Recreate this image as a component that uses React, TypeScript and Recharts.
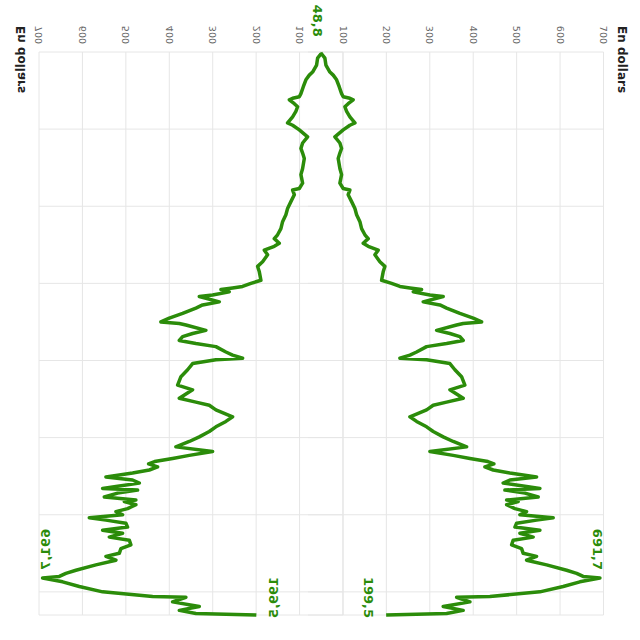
import { LineChart, Line, XAxis, YAxis, CartesianGrid, LabelList } from "recharts";

// share price (date as decimal year)
const dates = [
  2015.01, 2015.08, 2015.17, 2015.26, 2015.3, 2015.36, 2015.45, 2015.54, 2015.58, 2015.6,
  2015.62, 2015.67, 2015.71, 2015.77, 2015.84, 2015.92,
  2015.95, 2016.01, 2016.1, 2016.18, 2016.25, 2016.31, 2016.38, 2016.51, 2016.59, 2016.7,
  2016.77, 2016.79, 2016.85, 2016.94, 2017.03, 2017.11, 2017.2, 2017.29, 2017.37, 2017.42,
  2017.48, 2017.52, 2017.57, 2017.63, 2017.72, 2017.78, 2017.85, 2017.96, 2018.0,
  2018.04, 2018.06, 2018.08, 2018.11, 2018.15, 2018.17, 2018.24, 2018.28, 2018.32, 2018.39,
  2018.45, 2018.5, 2018.52, 2018.54, 2018.61, 2018.65, 2018.69, 2018.74, 2018.78, 2018.82,
  2018.89, 2018.93, 2018.97, 2018.99, 2019.04, 2019.12, 2019.21, 2019.32, 2019.38, 2019.49,
  2019.54, 2019.58, 2019.64, 2019.73, 2019.79, 2019.86, 2019.92, 2019.99, 2020.05, 2020.12,
  2020.18, 2020.23,
  2020.27, 2020.31, 2020.34, 2020.38, 2020.42, 2020.46, 2020.51, 2020.55, 2020.59, 2020.63,
  2020.66, 2020.68, 2020.72, 2020.77, 2020.81, 2020.83, 2020.87, 2020.92, 2020.96, 2021.0,
  2021.04, 2021.07, 2021.11, 2021.16, 2021.2, 2021.24, 2021.29, 2021.33, 2021.39, 2021.44,
  2021.5, 2021.54, 2021.59, 2021.65, 2021.72, 2021.76, 2021.8,
  2021.82, 2021.87, 2021.93, 2022.0, 2022.06, 2022.07, 2022.13, 2022.19, 2022.24, 2022.28,
  2022.3,
];

const prices = [
  48.8, 58.5, 60.8, 70, 77.6, 85.4, 91.4, 96.9, 100.6, 116,
  123.6, 112.1, 104.5, 108.5, 116, 127.6,
  116, 100.6, 81.5, 93, 96.9, 93, 89.1, 93, 96.9, 93,
  100.6, 116, 112.1, 120, 127.6, 131.5, 139.1, 143, 150.6, 158.2,
  146.7, 158.2, 181.2, 173.6, 185.1, 196.6, 192.7, 189, 212,
  231.2, 254.2, 281.1, 261.9, 300.3, 330.9, 284.8, 323.3, 338.7, 369.3,
  400, 419.3, 376.9, 361.7, 315.7, 346.3, 369.3, 376.9, 338.7, 292.7,
  269.6, 254.2, 231.2, 292.7, 346.3, 357.8, 373.2, 380.8, 346.3, 376.9,
  338.7, 307.9, 292.7, 254.2, 269.6, 292.7, 307.9, 330.9, 353.9, 384.8,
  300.3, 353.9,
  392.4, 433.8, 447.6, 426.9, 446, 484.5, 545.9, 484.5, 469, 519,
  553.5, 472.9, 519, 549.6, 476.9, 503.6, 476.9, 496, 522.9, 507.5,
  584.2, 545.9, 499.9, 496, 553.5, 507.5, 538.1, 492.1, 488.4, 511.4,
  515.1, 545.9, 522.9, 569, 615, 638.1, 653.2,
  691.7, 645.6, 607.2, 553.5, 438.4, 361.7, 392.4, 330.9, 376.9, 338.7,
  199.5,
];

const priceTicks = [100, 200, 300, 400, 500, 600, 700];
const yearTicks = [2015, 2016, 2017, 2018, 2019, 2020, 2021, 2022];

const data = dates.map((date, i) => ({ date, price: prices[i] }));

const GREEN = "#2b8c0a";
const FONT = "DejaVu Sans";
const peakIndex = prices.indexOf(Math.max(...prices));
const lastIndex = prices.length - 1;

function fmt(v: number) {
  return v.toFixed(1).replace(".", ",");
}

function makeLabel(withStart: boolean) {
  return (props: any) => {
    const { index, value } = props;
    const x = props.x ?? props.viewBox?.x;
    const y = props.y ?? props.viewBox?.y;
    let dx = 0;
    let dy = 0;
    if (index === 0 && withStart) {
      dx = -16;
      dy = 8;
    } else if (index === peakIndex) {
      dx = -8;
      dy = 7;
    } else if (index === lastIndex) {
      dx = 3;
      dy = 22;
    } else {
      return null;
    }
    return (
      <text
        x={x + dx}
        y={y + dy}
        textAnchor="end"
        fill={GREEN}
        fontSize={13}
        fontWeight="bold"
        fontFamily={FONT}
      >
        {fmt(Number(value))}
      </text>
    );
  };
}

// drawn as an ordinary time chart, then turned on its side
function PriceChart({ withStart }: { withStart: boolean }) {
  return (
    <div style={{ position: "relative", width: 640, height: 640 }}>
      <div
        style={{
          position: "absolute",
          left: 26,
          top: 12,
          fontFamily: FONT,
          fontWeight: "bold",
          fontSize: 12,
          lineHeight: 1,
          color: "#222",
          whiteSpace: "nowrap",
        }}
      >
        En dollars
      </div>
      <LineChart
        width={640}
        height={640}
        data={data}
        margin={{ top: 36.5, right: 25, bottom: 299.5, left: 12 }}
      >
        <CartesianGrid stroke="#e6e6e6" />
        <XAxis type="number" dataKey="date" domain={[2015, 2022.3]} ticks={yearTicks} hide />
        <YAxis
          type="number"
          domain={[0, 700]}
          ticks={priceTicks}
          width={40}
          axisLine={false}
          tickLine={false}
          tick={{ fontSize: 9.5, fill: "#666", fontFamily: FONT }}
        />
        <Line
          type="linear"
          dataKey="price"
          stroke={GREEN}
          strokeWidth={3.5}
          strokeLinejoin="round"
          dot={false}
          isAnimationActive={false}
        >
          <LabelList dataKey="price" content={makeLabel(withStart)} />
        </Line>
      </LineChart>
    </div>
  );
}

const CUT = 308; // right copy is shown from here on

export default function App() {
  return (
    <div
      style={{
        position: "absolute",
        left: 0,
        top: 0,
        width: 640,
        height: 640,
        overflow: "hidden",
        background: "#fff",
      }}
    >
      <div
        style={{
          position: "absolute",
          left: 0,
          top: 0,
          transformOrigin: "0 0",
          transform: "translateX(2.5px) scaleX(-1) rotate(90deg)",
        }}
      >
        <PriceChart withStart={false} />
      </div>
      <div
        style={{
          position: "absolute",
          left: CUT,
          top: 0,
          width: 640 - CUT,
          height: 640,
          overflow: "hidden",
        }}
      >
        <div
          style={{
            position: "absolute",
            left: 0,
            top: 0,
            transformOrigin: "0 0",
            transform: `translateX(${640 - CUT}px) rotate(90deg)`,
          }}
        >
          <PriceChart withStart />
        </div>
      </div>
    </div>
  );
}
